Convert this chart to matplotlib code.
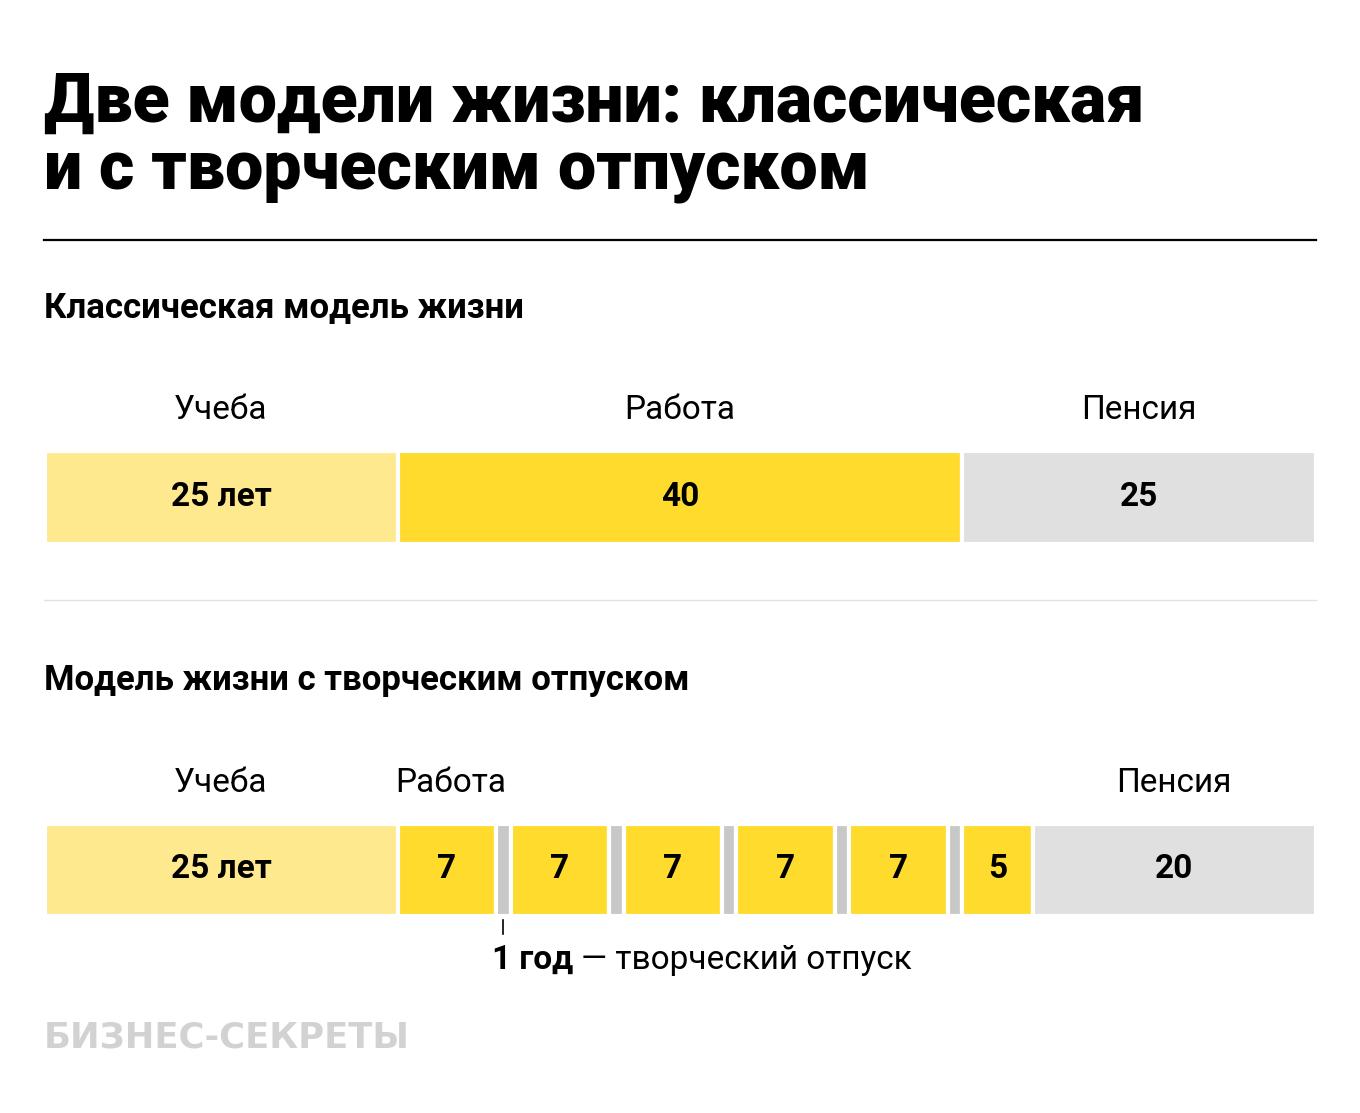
import matplotlib
matplotlib.use("Agg")
import matplotlib.pyplot as plt
import numpy as np

plt.rcParams['font.family'] = ['Roboto', 'DejaVu Sans']

# Classic model: segment lengths in years
classic_years = [25, 40, 25]
classic_labels = ["25 лет", "40", "25"]
classic_colors = ["#fee98f", "#fedb2d", "#e0e0e0"]
classic_heads = ["Учеба", "Работа", "Пенсия"]

# Sabbatical model: study, 5 x (7 work + 1 sabbatical), 5 work, 20 pension
sab_years = [25, 7, 1, 7, 1, 7, 1, 7, 1, 7, 1, 5, 20]
sab_labels = ["25 лет", "7", "", "7", "", "7", "", "7", "", "7", "", "5", "20"]
sab_kind = ["study", "work", "sab", "work", "sab", "work", "sab", "work", "sab",
            "work", "sab", "work", "pension"]
kind_colors = {"study": "#fee98f", "work": "#fedb2d", "sab": "#c8c8c8",
               "pension": "#e0e0e0"}

W, H = 1360, 1113
fig = plt.figure(figsize=(W / 100, H / 100), dpi=100)


def fx(px):
    return px / W


def fy(py):
    return 1 - py / H


def bar_axes(top, bottom):
    # edges are white lines of 3px, so widen the axes by half of that
    ax = fig.add_axes([fx(44.5), fy(bottom + 1.5), fx(1315.5) - fx(44.5),
                       fy(top - 1.5) - fy(bottom + 1.5)])
    ax.set_xlim(0, sum(classic_years))
    ax.set_ylim(-0.5, 0.5)
    ax.axis("off")
    return ax


def draw_bar(ax, years, colors, labels):
    lefts = np.concatenate([[0], np.cumsum(years)[:-1]])
    ax.barh(0, years, left=lefts, height=1.0, color=colors,
            edgecolor="white", linewidth=3)
    for l, w, t in zip(lefts, years, labels):
        if t:
            ax.text(l + w / 2, 0, t, ha="center", va="center", fontsize=24,
                    fontweight="bold", color="black")
    return lefts


HEAD_Y = 0.84

# title
fig.text(fx(44), fy(122), "Две модели жизни: классическая", fontsize=49,
         fontweight="black", va="baseline", ha="left")
fig.text(fx(44), fy(189), "и с творческим отпуском", fontsize=49,
         fontweight="black", va="baseline", ha="left")
fig.add_artist(plt.Line2D([fx(44), fx(1316)], [fy(240), fy(240)], color="black", lw=1.6))

# classic
fig.text(fx(44), fy(317), "Классическая модель жизни", fontsize=25,
         fontweight="bold", va="baseline", ha="left")
ax1 = bar_axes(452, 542)
lefts1 = draw_bar(ax1, classic_years, classic_colors, classic_labels)
for l, w, t in zip(lefts1, classic_years, classic_heads):
    ax1.text(l + w / 2, HEAD_Y, t, ha="center", va="baseline", fontsize=24)

fig.add_artist(plt.Line2D([fx(44), fx(1316)], [fy(600), fy(600)], color="#e2e2e2", lw=1))

# sabbatical
fig.text(fx(44), fy(690), "Модель жизни с творческим отпуском", fontsize=25,
         fontweight="bold", va="baseline", ha="left")
ax2 = bar_axes(825, 914)
sab_colors = [kind_colors[k] for k in sab_kind]
lefts2 = draw_bar(ax2, sab_years, sab_colors, sab_labels)
ax2.text(lefts2[0] + sab_years[0] / 2, HEAD_Y, "Учеба", ha="center", va="baseline", fontsize=24)
ax2.text(lefts2[1] - 0.15, HEAD_Y, "Работа", ha="left", va="baseline", fontsize=24)
ax2.text(lefts2[-1] + sab_years[-1] / 2, HEAD_Y, "Пенсия", ha="center", va="baseline", fontsize=24)

# annotation for first sabbatical
xs = lefts2[2] + sab_years[2] / 2
ax2.plot([xs, xs], [-0.55, -0.7], color="black", lw=1.2, clip_on=False)
x_ann = ax2.transData.transform((lefts2[2] - 0.3, 0))[0] / W
t1 = fig.text(x_ann, fy(969), "1 год", ha="left", va="baseline", fontsize=24,
              fontweight="bold")
fig.canvas.draw()
bb = t1.get_window_extent()
fig.text(bb.x1 / W + fx(8), fy(969), "— творческий отпуск", ha="left", va="baseline",
         fontsize=24)

# watermark
fig.text(fx(44), fy(1047), "БИЗНЕС-СЕКРЕТЫ", fontsize=25.5, fontweight="bold",
         color="#d2d2d2", family="DejaVu Sans", va="baseline", ha="left")

fig.savefig("out.png", dpi=100, facecolor="white")
